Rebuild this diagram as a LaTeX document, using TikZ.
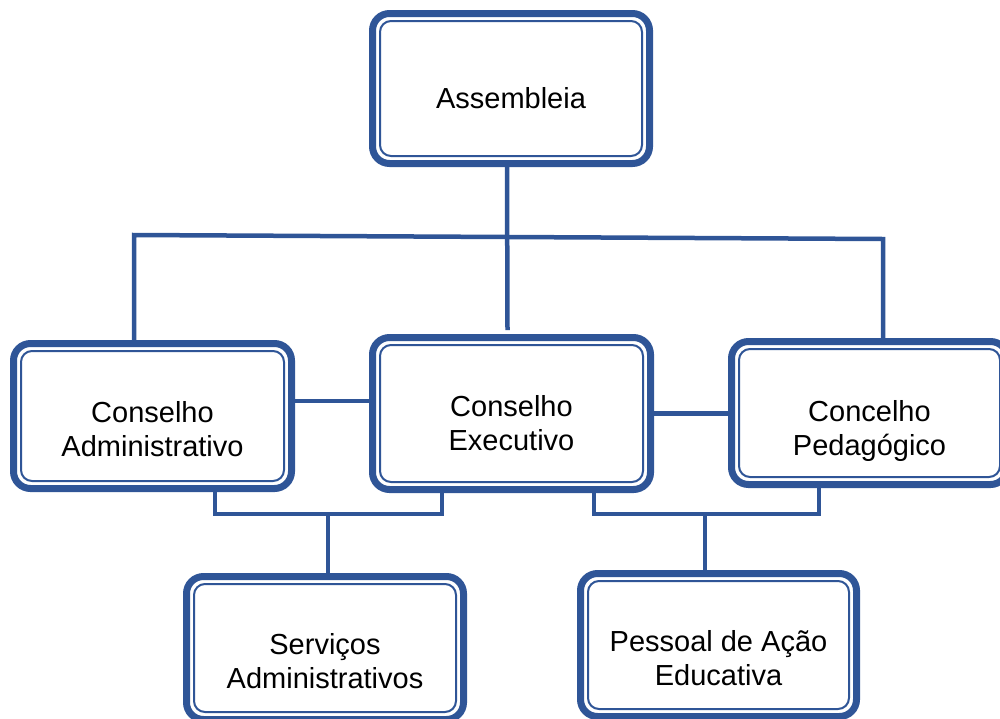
\documentclass[tikz,border=0pt]{standalone}
\usepackage{fontspec}
\setmainfont{Liberation Sans}
\usetikzlibrary{calc}
\definecolor{orgblue}{RGB}{47,85,151}

\begin{document}
\begin{tikzpicture}[x = 1pt, y = -1pt,
        font = \fontsize{29}{34}\selectfont,
        textdrop/.style = {execute at begin node = {\rule{0pt}{#1}}},
        orgbox/.style = {draw = orgblue, line width = 7pt, rounded corners = 17pt, fill = white,
            minimum width = 277pt, minimum height = 143pt, align = center},
        innerline/.style = {draw = orgblue, line width = 2pt, rounded corners = 11pt},
        link/.style = {draw = orgblue, line width = 4.5pt}]
        \useasboundingbox (0,0) rectangle (1000,718);

        % boxes
        \node [orgbox, minimum height = 150pt, textdrop = 41pt] (asm) at (511,88.5) {Assembleia};
        \node [orgbox, minimum width = 278pt, minimum height = 145pt, textdrop = 81pt] (adm) at (152.5,416) {Conselho\\Administrativo};
        \node [orgbox, minimum width = 278pt, minimum height = 152pt, textdrop = 75pt] (exe) at (511.5,413.5) {Conselho\\Executivo};
        \node [orgbox, minimum width = 276pt, textdrop = 90pt] (ped) at (869.5,413) {Concelho\\Pedagógico};
        \node [orgbox, textdrop = 81pt] (srv) at (325,648) {Serviços\\Administrativos};
        \node [orgbox, minimum width = 276pt, textdrop = 81pt] (pae) at (718.5,645) {Pessoal de Ação\\Educativa};

        \foreach \n in {asm,adm,exe,ped,srv,pae}
            \draw [innerline] ($(\n.north west)+(11pt,-11pt)$) rectangle ($(\n.south east)+(-11pt,11pt)$);

        % top bus
        \coordinate (busL) at (134,235);
        \coordinate (busR) at (883,239);
        \draw [link] (busL |- adm.north) -- (busL) -- (busR) -- (busR |- ped.north);
        \draw [link] ([xshift=-4pt]asm.south) -- ([xshift=-4pt,yshift=4pt]exe.north);

        % side links
        \coordinate (lnkA) at ([yshift=15pt]adm.east);
        \draw [link] (lnkA) -- (lnkA -| exe.west);
        \draw [link] (exe.east) -- (exe.east -| ped.west);

        % lower brackets
        \coordinate (jS) at (328,514);
        \coordinate (jP) at (705,514);
        \draw [link] (adm.south -| 215,0) |- (jS) -| (exe.south -| 442,0);
        \draw [link] (jS) -- (jS |- srv.north);
        \draw [link] (exe.south -| 594,0) |- (jP) -| (ped.south -| 819,0);
        \draw [link] (jP) -- (jP |- pae.north);
    \end{tikzpicture}
\end{document}
